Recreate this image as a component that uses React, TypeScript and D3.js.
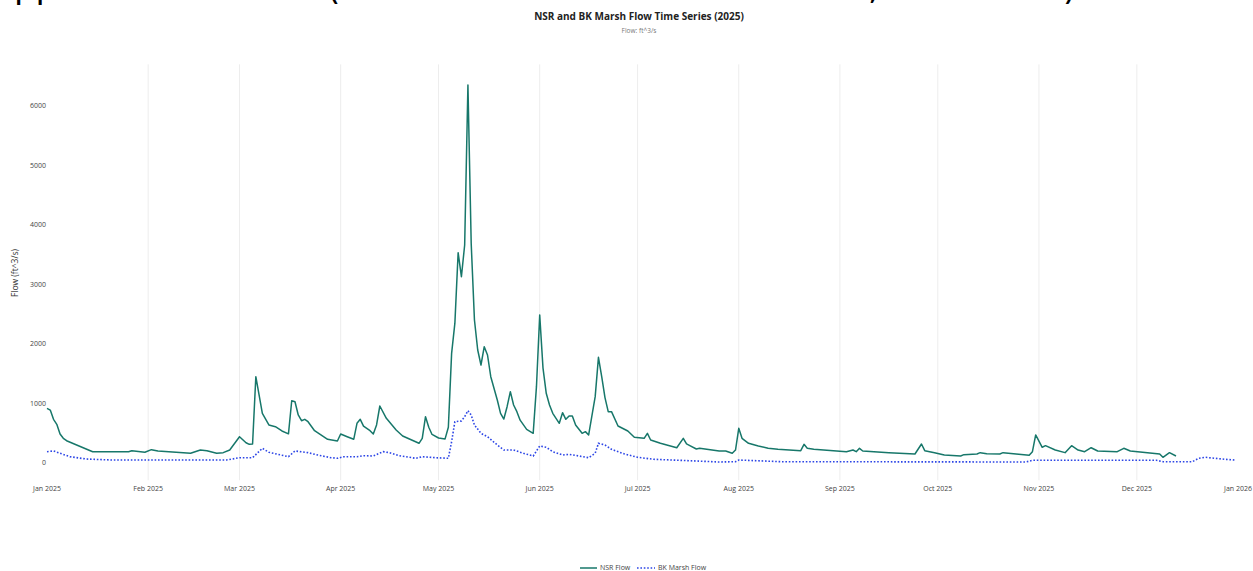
import React from "react";
import * as d3 from "d3";

const W = 1253;
const H = 571;

const nsrDates = ["01-01","01-02","01-03","01-04","01-05","01-06","01-07","01-15","01-26","01-27","01-31","02-02","02-04","02-14","02-17","02-19","02-22","02-24","02-26","03-01","03-03","03-04","03-05","03-06","03-08","03-10","03-12","03-14","03-16","03-17","03-18","03-19","03-20","03-21","03-22","03-24","03-28","03-31","04-01","04-03","04-05","04-06","04-07","04-08","04-10","04-11","04-12","04-13","04-15","04-18","04-20","04-25","04-26","04-27","04-28","04-29","05-01","05-03","05-04","05-05","05-06","05-07","05-08","05-09","05-10","05-11","05-12","05-13","05-14","05-15","05-16","05-17","05-19","05-20","05-21","05-22","05-23","05-24","05-25","05-26","05-28","05-30","05-31","06-01","06-02","06-03","06-04","06-05","06-06","06-07","06-08","06-09","06-10","06-11","06-12","06-14","06-15","06-16","06-18","06-19","06-20","06-21","06-22","06-23","06-25","06-28","06-30","07-03","07-04","07-05","07-08","07-13","07-15","07-16","07-17","07-19","07-20","07-26","07-28","07-30","07-31","08-01","08-02","08-04","08-07","08-10","08-13","08-20","08-21","08-22","08-24","08-30","09-03","09-05","09-06","09-07","09-08","09-16","09-24","09-26","09-27","09-30","10-03","10-08","10-09","10-13","10-14","10-16","10-20","10-21","10-25","10-29","10-30","10-31","11-02","11-03","11-06","11-09","11-11","11-13","11-15","11-17","11-19","11-25","11-27","11-29","12-08","12-09","12-11","12-13"];
const nsrFlow = [919,890,734,650,487,415,375,190,190,207,180,224,202,163,218,207,163,174,218,442,341,314,319,1451,835,639,610,538,490,1047,1030,807,711,734,694,543,398,370,487,442,398,667,734,620,543,487,639,958,751,555,454,331,415,778,600,480,420,405,600,1843,2350,3535,3131,3664,6353,3692,2403,1899,1647,1955,1815,1450,1059,835,739,946,1199,975,863,720,566,499,1283,2487,1600,1171,975,835,751,667,846,734,790,790,639,499,527,471,1115,1776,1450,1100,863,863,622,538,432,415,499,387,331,257,415,320,291,235,247,200,202,163,218,583,415,331,286,247,230,207,314,247,230,207,190,218,190,247,202,174,151,319,207,174,134,118,140,151,174,157,151,174,151,129,190,471,264,291,218,174,291,218,190,257,202,190,247,202,151,96,174,118];

const bkDates = ["01-01","01-03","01-05","01-08","01-13","01-21","02-25","03-01","03-05","03-08","03-10","03-16","03-18","03-22","03-25","03-29","03-31","04-02","04-06","04-08","04-11","04-14","04-16","04-19","04-24","04-26","04-30","05-04","05-05","05-06","05-08","05-09","05-10","05-11","05-12","05-14","05-16","05-19","05-21","05-24","05-27","05-30","06-01","06-03","06-05","06-08","06-10","06-13","06-16","06-18","06-19","06-21","06-23","06-27","07-01","07-06","07-14","07-26","07-31","08-01","08-14","10-28","10-30","12-07","12-09","12-18","12-20","12-22","12-28","12-31"];
const bkFlow = [190,202,163,106,67,50,50,89,89,247,180,106,202,174,134,89,79,106,106,123,118,190,174,123,79,106,89,79,358,694,706,778,879,807,639,499,442,303,218,218,163,118,286,264,190,134,146,118,89,163,331,303,230,151,96,62,45,17,22,50,22,17,45,45,22,22,79,96,62,50];

const yTicks = [0, 1000, 2000, 3000, 4000, 5000, 6000];
const monthLabels = ["Jan 2025","Feb 2025","Mar 2025","Apr 2025","May 2025","Jun 2025","Jul 2025","Aug 2025","Sep 2025","Oct 2025","Nov 2025","Dec 2025","Jan 2026"];

const title = "NSR and BK Marsh Flow Time Series (2025)";
const subtitle = "Flow: ft^3/s";
const yTitle = "Flow (ft^3/s)";
const seriesNames = ["NSR Flow", "BK Marsh Flow"];

const parse = (s: string) => {
  const [m, d] = s.split("-").map(Number);
  return new Date(Date.UTC(2025, m - 1, d));
};

const FONT = "'Open Sans', 'Noto Sans', sans-serif";
const NSR_COLOR = "#17776a";
const BK_COLOR = "#2d46e6";

export default function App() {
  const start = new Date(Date.UTC(2025, 0, 1));
  const end = new Date(Date.UTC(2026, 0, 1));
  const x = d3.scaleUtc().domain([start, end]).range([47, 1238]);
  const y = d3.scaleLinear().domain([0, 6000]).range([463, 106]);
  const gridTop = y(6700);
  const gridBottom = y(-290);

  const nsr = nsrDates.map((d, i) => ({ date: parse(d), v: nsrFlow[i] }));
  const bk = bkDates.map((d, i) => ({ date: parse(d), v: bkFlow[i] }));
  const line = d3.line<{ date: Date; v: number }>().x((d) => x(d.date)).y((d) => y(d.v));

  const monthTicks = d3.utcMonth.range(start, new Date(Date.UTC(2026, 0, 2)));

  return (
    <svg width={W} height={H} style={{ position: "absolute", left: 0, top: 0, background: "#fff" }} fontFamily={FONT}>
      {/* cut-off page heading (only the descenders are in view) */}
      <g fontSize={34} fill="#000" fontFamily="'DejaVu Sans', sans-serif">
        <text x={14} y={-2}>pp</text>
        <text x={327} y={0}>(</text>
        <text x={868} y={-1}>,</text>
        <text x={1063} y={0}>)</text>
      </g>

      <text x={639} y={20} textAnchor="middle" fontSize={10} fontWeight="bold" fill="#222">{title}</text>
      <text x={639} y={33} textAnchor="middle" fontSize={6.5} fill="#777">{subtitle}</text>

      {/* vertical grid */}
      {monthTicks.slice(1, -1).map((t, i) => (
        <line key={"g" + i} x1={x(t)} x2={x(t)} y1={gridTop} y2={gridBottom} stroke="#ededed" strokeWidth={1} />
      ))}

      {/* y ticks */}
      {yTicks.map((t) => (
        <text key={"y" + t} x={46} y={y(t)} dy="0.35em" textAnchor="end" fontSize={7} fill="#444">{t}</text>
      ))}
      <text transform={`translate(18, 273) rotate(-90)`} textAnchor="middle" fontSize={8.5} fill="#333">{yTitle}</text>

      {/* x ticks */}
      {monthTicks.map((t, i) => (
        <text key={"x" + i} x={x(t)} y={491} textAnchor="middle" fontSize={7} fill="#444">{monthLabels[i]}</text>
      ))}

      <path d={line(bk) || ""} fill="none" stroke={BK_COLOR} strokeWidth={1.6} strokeDasharray="1.6,1.8" />
      <path d={line(nsr) || ""} fill="none" stroke={NSR_COLOR} strokeWidth={1.5} strokeLinejoin="round" />

      {/* legend */}
      <g fontSize={7} fill="#444">
        <line x1={580} x2={597} y1={568} y2={568} stroke={NSR_COLOR} strokeWidth={1.5} />
        <text x={600} y={568} dy="0.35em">{seriesNames[0]}</text>
        <line x1={637} x2={655} y1={568} y2={568} stroke={BK_COLOR} strokeWidth={1.6} strokeDasharray="1.6,1.8" />
        <text x={658} y={568} dy="0.35em">{seriesNames[1]}</text>
      </g>
    </svg>
  );
}
